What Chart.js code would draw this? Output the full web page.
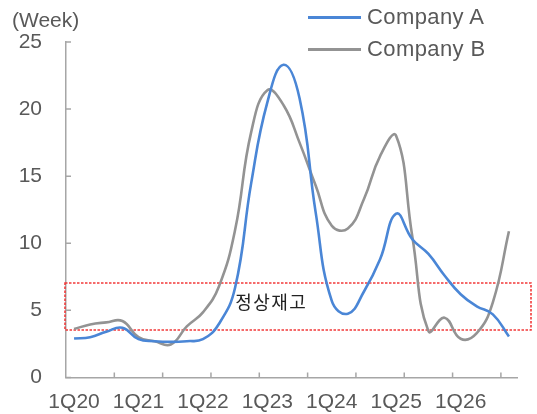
<!DOCTYPE html>
<html><head><meta charset="utf-8">
<script src="https://cdn.jsdelivr.net/npm/chart.js@4"></script>
<style>
html,body{margin:0;padding:0;background:#fff;}
#wrap{position:relative;width:537px;height:414px;overflow:hidden;}
canvas{position:absolute;left:0;top:0;}
.t{position:absolute;font-family:"Liberation Sans",Arial,sans-serif;color:#595959;white-space:nowrap;line-height:1;}
.sw{position:absolute;left:308px;width:53px;height:3px;}
</style></head><body>
<div id="wrap"><canvas id="c" width="537" height="414"></canvas>
<div class="t" style="left:12px;top:9px;font-size:21px;">(Week)</div>
<div id="legend"></div>
</div>
<script>
// ---- data ----
const categories = ['1Q20','2Q20','3Q20','4Q20','1Q21','2Q21','3Q21','4Q21','1Q22','2Q22','3Q22','4Q22',
  '1Q23','2Q23','3Q23','4Q23','1Q24','2Q24','3Q24','4Q24','1Q25','2Q25','3Q25','4Q25','1Q26','2Q26','3Q26','4Q26'];
const tickLabels = ['1Q20','1Q21','1Q22','1Q23','1Q24','1Q25','1Q26'];
const seriesNames = ['Company A','Company B'];
const companyA = [2.9,3.0,3.4,3.7,2.85,2.7,2.65,2.7,2.85,4.0,6.7,14.5,20.5,23.3,20.8,12.3,5.7,4.75,6.4,8.8,12.2,10.3,9.2,7.6,6.2,5.3,4.7,3.05];
const companyB = [3.6,3.95,4.1,4.2,3.0,2.7,2.45,3.8,4.85,6.8,11.0,18.3,21.4,20.3,17.5,14.3,11.3,11.1,13.3,16.5,18.0,10.5,3.45,4.45,2.88,3.3,5.6,10.9];
const normalBand = [3.5, 7.0];
const bandLabel = '정상재고';
const bandLabelAt = [10, 5.6];
const yTicks = [0,5,10,15,20,25];

const colors = ['#4a86d6','#939393'];
const FONT = '"Liberation Sans", Arial, sans-serif';
const AXIS = '#a6a6a6';

// legend (HTML)
const lg = document.getElementById('legend');
seriesNames.forEach((n,i)=>{
  const yc = 17 + i*32;
  const s = document.createElement('div'); s.className='sw';
  s.style.top=(yc-1.5)+'px'; s.style.background=colors[i]; lg.appendChild(s);
  const t = document.createElement('div'); t.className='t';
  t.style.left='367px'; t.style.top=(yc-11)+'px'; t.style.fontSize='22px'; t.style.letterSpacing='0.4px'; t.textContent=n; lg.appendChild(t);
});

const decor = {
  id:'decor',
  beforeDatasetsDraw(chart){
    const {ctx, chartArea:a, scales:{x,y}} = chart;
    const top = Math.round(y.getPixelForValue(normalBand[1])), bot = Math.round(y.getPixelForValue(normalBand[0]));
    const l = Math.round(a.left)-1, r = Math.round(a.right)+14;
    ctx.save();
    ctx.strokeStyle='#f23a3a'; ctx.lineWidth=1.6; ctx.setLineDash([2.5,1.5]);
    ctx.strokeRect(l, top, r-l, bot-top);
    ctx.setLineDash([]);
    ctx.fillStyle='#222222';
    ctx.font='18px "Noto Sans CJK KR", sans-serif';
    if ('letterSpacing' in ctx) ctx.letterSpacing='1.5px';
    ctx.textBaseline='middle'; ctx.textAlign='left';
    ctx.fillText(bandLabel, x.getPixelForValue(bandLabelAt[0]), y.getPixelForValue(bandLabelAt[1]));
    ctx.restore();
  },
  afterDraw(chart){
    const {ctx, chartArea:a, scales:{x,y}} = chart;
    ctx.save(); ctx.strokeStyle=AXIS; ctx.lineWidth=1.5;
    ctx.beginPath();
    yTicks.forEach(v=>{const py=y.getPixelForValue(v); ctx.moveTo(a.left, py); ctx.lineTo(a.left+5, py);});
    for(let i=3;i<categories.length;i+=3){
      const px=(x.getPixelForValue(i)+x.getPixelForValue(i-1))/2;
      ctx.moveTo(px, a.bottom); ctx.lineTo(px, a.bottom-5);
    }
    ctx.stroke(); ctx.restore();
  }
};

new Chart(document.getElementById('c'), {
  type:'line',
  data:{labels:categories, datasets:[
    {label:seriesNames[0], data:companyA, borderColor:colors[0], borderWidth:2.6, pointRadius:0, tension:0.45, fill:false},
    {label:seriesNames[1], data:companyB, borderColor:colors[1], borderWidth:2.6, pointRadius:0, tension:0.45, fill:false}
  ]},
  options:{
    responsive:false, animation:false, devicePixelRatio:1,
    layout:{padding:{top:42,right:20,left:0,bottom:0}},
    plugins:{legend:{display:false}, tooltip:{enabled:false}},
    scales:{
      x:{type:'category', offset:true,
        grid:{display:false, drawTicks:false},
        border:{color:AXIS, width:1.5},
        ticks:{autoSkip:false, maxRotation:0, minRotation:0, padding:12, color:'#595959', font:{family:FONT,size:21},
          callback:(v,i)=> tickLabels.includes(categories[i]) ? categories[i] : ''},
        afterFit:s=>{s.height=36;}},
      y:{min:0,max:25,
        grid:{display:false, drawTicks:false},
        border:{color:AXIS, width:1.5},
        ticks:{stepSize:5, padding:24, color:'#595959', font:{family:FONT,size:21}},
        afterFit:s=>{s.width=66;}}
    }
  },
  plugins:[decor]
});
</script>
</body></html>
